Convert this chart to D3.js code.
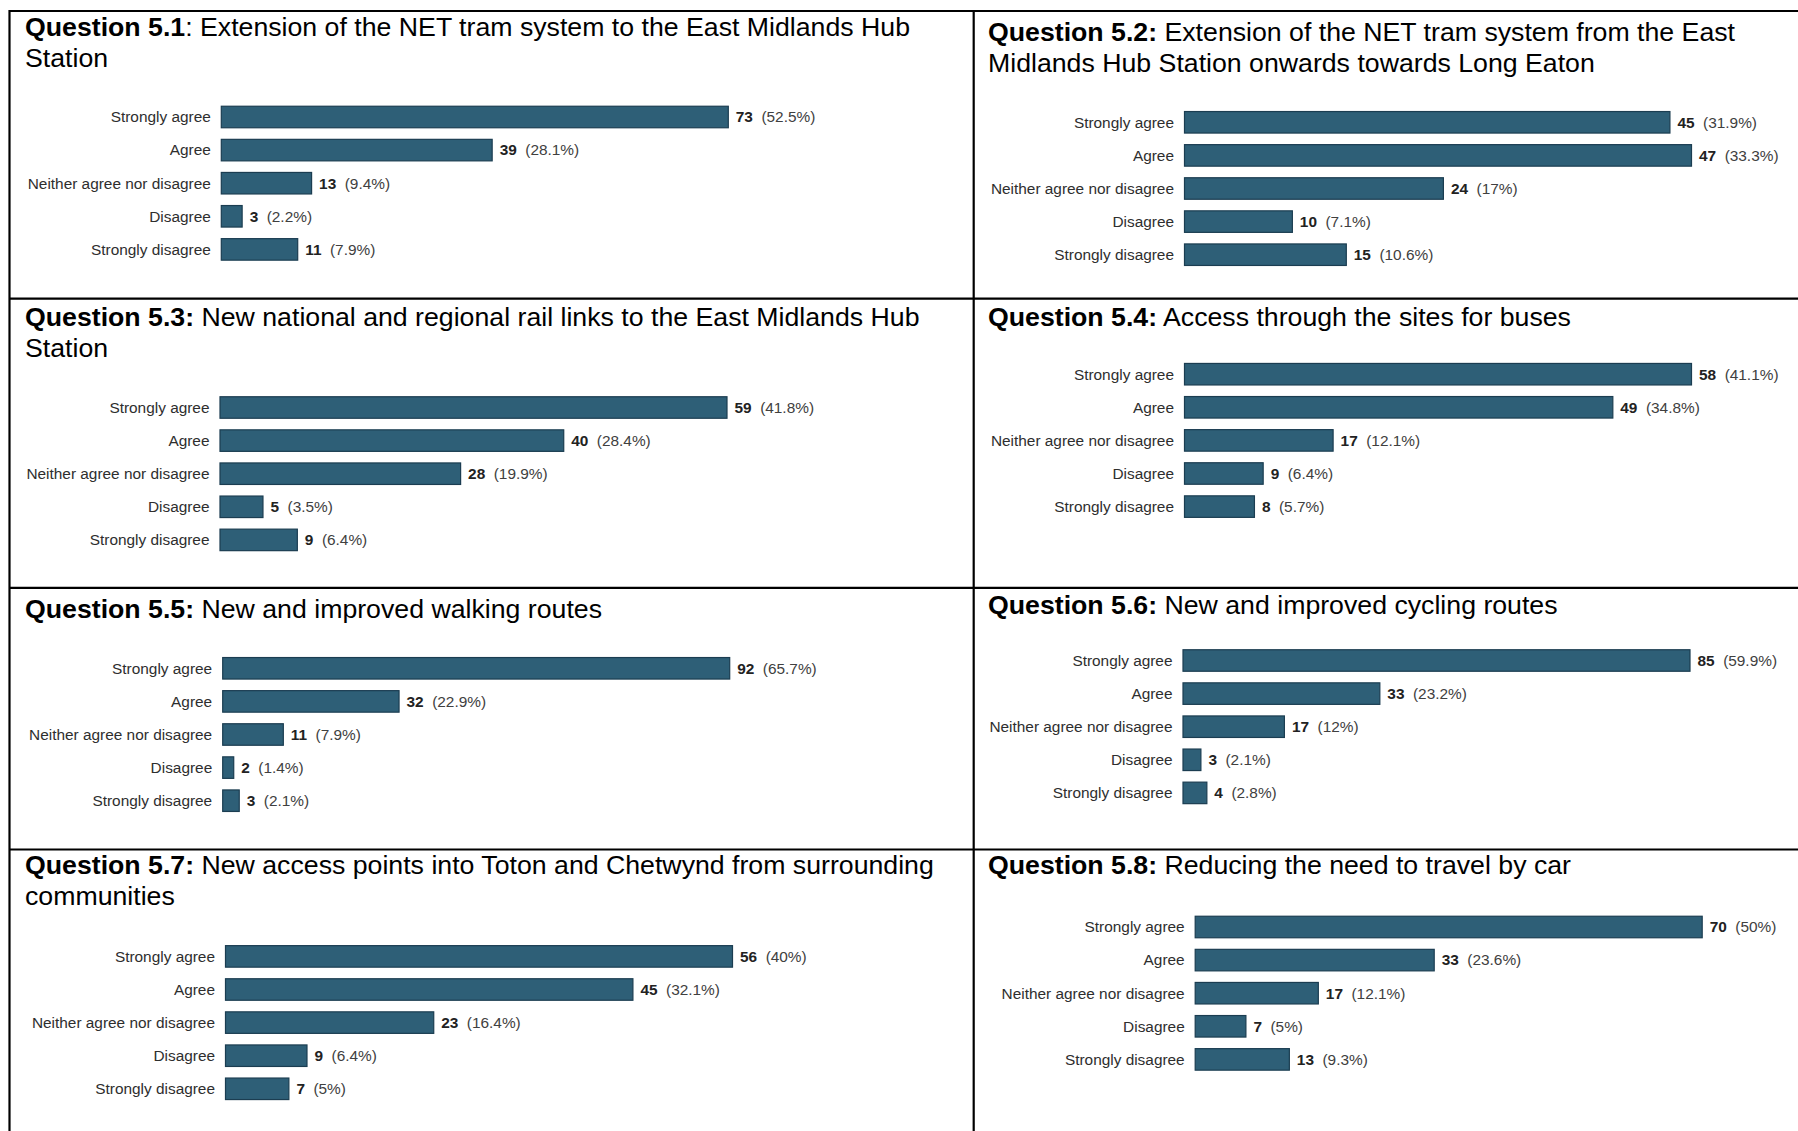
<!DOCTYPE html>
<html>
<head>
<meta charset="utf-8">
<script src="https://cdn.jsdelivr.net/npm/d3@7"></script>
<style>
  html, body { margin: 0; padding: 0; background: #ffffff; }
  svg { display: block; }
</style>
</head>
<body>
<svg id="chart" width="1798" height="1131"></svg>
<script>
// Response categories shared by every question
const categories = ["Strongly agree", "Agree", "Neither agree nor disagree", "Disagree", "Strongly disagree"];

// Question headings (bold part) and title lines (regular part)
const questionLabels = ["Question 5.1", "Question 5.2:", "Question 5.3:", "Question 5.4:",
                        "Question 5.5:", "Question 5.6:", "Question 5.7:", "Question 5.8:"];
const q51Title = [": Extension of the NET tram system to the East Midlands Hub", "Station"];
const q52Title = [" Extension of the NET tram system from the East", "Midlands Hub Station onwards towards Long Eaton"];
const q53Title = [" New national and regional rail links to the East Midlands Hub", "Station"];
const q54Title = [" Access through the sites for buses"];
const q55Title = [" New and improved walking routes"];
const q56Title = [" New and improved cycling routes"];
const q57Title = [" New access points into Toton and Chetwynd from surrounding", "communities"];
const q58Title = [" Reducing the need to travel by car"];

// Response counts per question
const q51Counts = [73, 39, 13, 3, 11];
const q52Counts = [45, 47, 24, 10, 15];
const q53Counts = [59, 40, 28, 5, 9];
const q54Counts = [58, 49, 17, 9, 8];
const q55Counts = [92, 32, 11, 2, 3];
const q56Counts = [85, 33, 17, 3, 4];
const q57Counts = [56, 45, 23, 9, 7];
const q58Counts = [70, 33, 17, 7, 13];

// Share of respondents per question
const q51Percents = ["52.5%", "28.1%", "9.4%", "2.2%", "7.9%"];
const q52Percents = ["31.9%", "33.3%", "17%", "7.1%", "10.6%"];
const q53Percents = ["41.8%", "28.4%", "19.9%", "3.5%", "6.4%"];
const q54Percents = ["41.1%", "34.8%", "12.1%", "6.4%", "5.7%"];
const q55Percents = ["65.7%", "22.9%", "7.9%", "1.4%", "2.1%"];
const q56Percents = ["59.9%", "23.2%", "12%", "2.1%", "2.8%"];
const q57Percents = ["40%", "32.1%", "16.4%", "6.4%", "5%"];
const q58Percents = ["50%", "23.6%", "12.1%", "5%", "9.3%"];

const titles = [q51Title, q52Title, q53Title, q54Title, q55Title, q56Title, q57Title, q58Title];
const counts = [q51Counts, q52Counts, q53Counts, q54Counts, q55Counts, q56Counts, q57Counts, q58Counts];
const percents = [q51Percents, q52Percents, q53Percents, q54Percents, q55Percents, q56Percents, q57Percents, q58Percents];

// Placement of each question block inside the table
const layout = [
  { titleX: 25,  titleY: 35.8,  barX: 221.3,  firstY: 117.0 },
  { titleX: 988, titleY: 40.5,  barX: 1184.5, firstY: 122.3 },
  { titleX: 25,  titleY: 325.9, barX: 220.0,  firstY: 407.5 },
  { titleX: 988, titleY: 325.5, barX: 1184.5, firstY: 374.2 },
  { titleX: 25,  titleY: 618.2, barX: 222.7,  firstY: 668.3 },
  { titleX: 988, titleY: 613.8, barX: 1183.0, firstY: 660.5 },
  { titleX: 25,  titleY: 873.8, barX: 225.5,  firstY: 956.4 },
  { titleX: 988, titleY: 873.8, barX: 1195.2, firstY: 927.0 }
];

const W = 1798, H = 1131;
const rowLines = [11, 298.7, 587.8, 849.5];
const leftX = 9.5, midX = 973.7;
const step = 33.1;
const maxBarWidth = 507;
const titleLineHeight = 31.4;
const titleSize = 26.7;

const barFill = "#2e5f77";
const barStroke = "#1b3d51";
const fontFamily = "'Liberation Sans', Arial, Helvetica, sans-serif";

const svg = d3.select("#chart");
svg.append("rect").attr("width", W).attr("height", H).attr("fill", "#ffffff");

// Table rules
const grid = svg.append("g").attr("stroke", "#000").attr("stroke-width", 2.2);
rowLines.forEach(y => {
  grid.append("line").attr("x1", leftX).attr("x2", W).attr("y1", y).attr("y2", y);
});
grid.append("line").attr("x1", leftX).attr("x2", leftX).attr("y1", rowLines[0] - 1.1).attr("y2", H);
grid.append("line").attr("x1", midX).attr("x2", midX).attr("y1", rowLines[0] - 1.1).attr("y2", H);

// One bar chart per question
layout.forEach((pos, qi) => {
  const g = svg.append("g").attr("font-family", fontFamily);

  // Heading
  const t = g.append("text")
    .attr("x", pos.titleX).attr("y", pos.titleY)
    .attr("font-size", titleSize).attr("fill", "#000");
  t.append("tspan").attr("font-weight", "bold").text(questionLabels[qi]);
  t.append("tspan").text(titles[qi][0]);
  titles[qi].slice(1).forEach((line, li) => {
    g.append("text")
      .attr("x", pos.titleX).attr("y", pos.titleY + titleLineHeight * (li + 1))
      .attr("font-size", titleSize).attr("fill", "#000")
      .text(line);
  });

  const values = counts[qi];
  const x = d3.scaleLinear()
    .domain([0, d3.max(values)])
    .range([pos.barX, pos.barX + maxBarWidth]);
  const y = d3.scaleBand()
    .domain(categories)
    .range([pos.firstY - step / 2, pos.firstY - step / 2 + step * categories.length])
    .paddingInner(0.35)
    .paddingOuter(0.175);

  const rows = categories.map((c, i) => ({ cat: c, value: values[i], pct: percents[qi][i] }));

  // Category labels
  g.selectAll("text.cat").data(rows).join("text")
    .attr("class", "cat")
    .attr("x", pos.barX - 10.5)
    .attr("y", d => y(d.cat) + y.bandwidth() / 2)
    .attr("dy", "0.35em")
    .attr("text-anchor", "end")
    .attr("font-size", 15.4)
    .attr("fill", "#2e2e2e")
    .text(d => d.cat);

  // Bars
  g.selectAll("rect.bar").data(rows).join("rect")
    .attr("class", "bar")
    .attr("x", x(0))
    .attr("y", d => y(d.cat))
    .attr("width", d => x(d.value) - x(0))
    .attr("height", y.bandwidth())
    .attr("fill", barFill)
    .attr("stroke", barStroke)
    .attr("stroke-width", 1.2);

  // Value labels: count (bold) and share
  const vl = g.selectAll("text.val").data(rows).join("text")
    .attr("class", "val")
    .attr("x", d => x(d.value) + 7.5)
    .attr("y", d => y(d.cat) + y.bandwidth() / 2)
    .attr("dy", "0.35em")
    .attr("font-size", 15.4);
  vl.append("tspan").attr("font-weight", "bold").attr("fill", "#222").text(d => d.value);
  vl.append("tspan").attr("dx", 8.5).attr("fill", "#404040").text(d => "(" + d.pct + ")");
});
</script>
</body>
</html>
